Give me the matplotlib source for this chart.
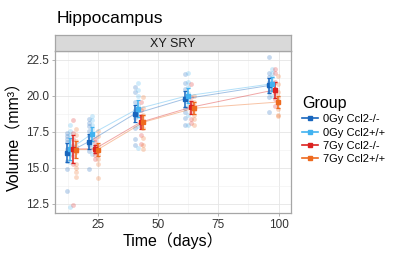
import numpy as np
import matplotlib
matplotlib.use("Agg")
from matplotlib import pyplot as plt
from matplotlib.lines import Line2D

plt.rcParams['font.family'] = ['Liberation Sans', 'Noto Sans CJK SC', 'DejaVu Sans']

# time points (days) and groups
days = [14, 23, 42, 63, 98]
groups = ["0Gy Ccl2-/-", "0Gy Ccl2+/+", "7Gy Ccl2-/-", "7Gy Ccl2+/+"]
colors = ["#1866BE", "#41B2F0", "#DC2220", "#EE6A1E"]

# group means and standard errors
means = {
    "0Gy Ccl2-/-": [16.06, 16.84, 18.76, 19.81, 20.73],
    "0Gy Ccl2+/+": [16.33, 17.38, 19.11, 20.03, 20.85],
    "7Gy Ccl2-/-": [16.33, 16.33, 18.18, 19.22, 20.43],
    "7Gy Ccl2+/+": [16.28, 16.28, 18.18, 19.15, 19.58],
}
ses = {
    "0Gy Ccl2-/-": [0.67, 0.55, 0.60, 0.55, 0.50],
    "0Gy Ccl2+/+": [0.75, 0.50, 0.60, 0.50, 0.50],
    "7Gy Ccl2-/-": [0.97, 0.30, 0.50, 0.45, 0.55],
    "7Gy Ccl2+/+": [0.60, 0.45, 0.50, 0.40, 0.40],
}

# individual animals
points = {
    "0Gy Ccl2-/-": [
        [17.4, 17.2, 17.0, 16.8, 16.3, 15.5, 14.9, 13.4],
        [18.4, 18.1, 17.9, 17.6, 17.2, 16.6, 16.2, 14.9],
        [20.6, 20.3, 19.6, 19.0, 18.5, 17.8, 17.0, 16.6],
        [21.5, 20.9, 20.5, 19.8, 19.2, 18.9, 18.5, 18.0],
        [22.7, 21.6, 21.3, 21.0, 20.6, 20.3, 19.9, 18.9],
    ],
    "0Gy Ccl2+/+": [
        [18.0, 17.6, 17.3, 16.9, 16.5, 16.0, 15.4, 12.3],
        [18.6, 18.3, 18.0, 17.7, 17.3, 16.9, 16.5, 16.0],
        [20.9, 20.4, 20.0, 19.4, 19.0, 18.6, 17.9, 16.4],
        [21.6, 21.0, 20.6, 20.2, 19.8, 19.3, 18.7, 18.0],
        [21.9, 21.6, 21.3, 21.0, 20.8, 20.4, 20.0],
    ],
    "7Gy Ccl2-/-": [
        [18.3, 17.4, 17.0, 16.6, 16.2, 15.8, 15.3, 12.4],
        [17.0, 16.8, 16.5, 16.3, 16.1, 15.9, 15.6],
        [19.6, 19.0, 18.6, 18.2, 17.9, 17.3, 16.7],
        [20.8, 19.9, 19.6, 19.3, 18.9, 18.4, 18.1],
        [21.9, 21.6, 21.0, 20.5, 20.2, 19.8, 19.3],
    ],
    "7Gy Ccl2+/+": [
        [17.7, 17.3, 16.9, 16.5, 16.1, 15.3, 15.0, 14.7, 14.4],
        [17.6, 17.2, 16.6, 16.2, 15.9, 15.6, 15.3, 14.3],
        [19.9, 19.2, 18.7, 18.3, 17.8, 17.1, 16.6, 16.3],
        [20.0, 19.6, 19.3, 19.0, 18.7, 18.4, 18.0],
        [21.4, 20.8, 20.3, 19.9, 19.5, 19.1, 18.7, 18.6],
    ],
}

dodge = [-1.8, -0.6, 0.6, 1.8]

fig = plt.figure(figsize=(4, 2.56), dpi=100)
ax = fig.add_axes([55 / 400, 43 / 256, 236 / 400, 162 / 256])

for i, g in enumerate(groups):
    x = np.array(days) + dodge[i]
    for xi, vals in zip(x, points[g]):
        ax.scatter(np.full(len(vals), xi), vals, s=12, color=colors[i],
                   alpha=0.25, linewidths=0, zorder=2)
    ax.plot(x, means[g], color=colors[i], lw=0.7, alpha=0.4, zorder=3)
    ax.errorbar(x, means[g], yerr=ses[g], fmt='s', color=colors[i], ms=2.5,
                elinewidth=1.1, capsize=1.6, capthick=0.9, zorder=4)

ax.set_xlim(7.0, 105.2)
ax.set_ylim(11.875, 23.125)
ax.set_xticks([25, 50, 75, 100])
ax.set_xticks([12.5, 37.5, 62.5, 87.5], minor=True)
ax.set_yticks([12.5, 15.0, 17.5, 20.0, 22.5])
ax.set_yticklabels(["12.5", "15.0", "17.5", "20.0", "22.5"])
ax.set_yticks([13.75, 16.25, 18.75, 21.25], minor=True)
ax.grid(which='major', color='#E5E5E5', lw=0.6, zorder=0)
ax.grid(which='minor', color='#F0F0F0', lw=0.4, zorder=0)
ax.set_axisbelow(True)
for s in ax.spines.values():
    s.set_color('#A6A6A6')
    s.set_linewidth(0.9)
ax.tick_params(which='major', length=2.5, width=0.6, color='#A6A6A6',
               labelsize=8.5, labelcolor='#333333', pad=1.5)
ax.tick_params(which='minor', length=0)

ax.set_xlabel("Time（days）", fontsize=11.5, labelpad=1)
ax.set_ylabel("Volume（mm³）", fontsize=11.5, labelpad=3)

# facet strip
strip = fig.add_axes([55 / 400, 205 / 256, 236 / 400, 16 / 256])
strip.set_facecolor('#D9D9D9')
strip.set_xticks([])
strip.set_yticks([])
for s in strip.spines.values():
    s.set_color('#A6A6A6')
    s.set_linewidth(0.9)
strip.text(0.5, 0.45, "XY SRY", ha='center', va='center', fontsize=9,
           color='#1A1A1A', transform=strip.transAxes)

fig.text(57 / 400, 1 - 18 / 256, "Hippocampus", fontsize=12.5, va='center', ha='left')

handles = [Line2D([0], [0], color=c, lw=1.2, marker='s', ms=2.5) for c in colors]
leg = fig.legend(handles, groups, loc='upper left', bbox_to_anchor=(302 / 400, 1 - 96 / 256),
                 frameon=False, title="Group", title_fontsize=11.5, fontsize=8,
                 handlelength=1.4, handletextpad=0.5, labelspacing=0.3,
                 borderpad=0, borderaxespad=0, alignment='left')

fig.savefig("out.png", dpi=100)
